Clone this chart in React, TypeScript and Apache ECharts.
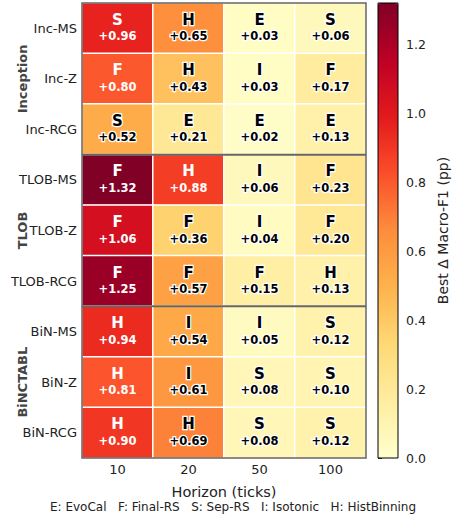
import React, { useEffect, useRef } from "react";
import * as echarts from "echarts";

const rows = ["Inc-MS", "Inc-Z", "Inc-RCG", "TLOB-MS", "TLOB-Z", "TLOB-RCG", "BiN-MS", "BiN-Z", "BiN-RCG"];
const cols = ["10", "20", "50", "100"];
const methods = [
  ["S", "H", "E", "S"],
  ["F", "H", "I", "F"],
  ["S", "E", "E", "E"],
  ["F", "H", "I", "F"],
  ["F", "F", "I", "F"],
  ["F", "F", "F", "H"],
  ["H", "I", "I", "S"],
  ["H", "I", "S", "S"],
  ["H", "H", "S", "S"],
];
const values = [
  [0.96, 0.65, 0.03, 0.06],
  [0.8, 0.43, 0.03, 0.17],
  [0.52, 0.21, 0.02, 0.13],
  [1.32, 0.88, 0.06, 0.23],
  [1.06, 0.36, 0.04, 0.2],
  [1.25, 0.57, 0.15, 0.13],
  [0.94, 0.54, 0.05, 0.12],
  [0.81, 0.61, 0.08, 0.1],
  [0.9, 0.69, 0.08, 0.12],
];
const groups = ["Inception", "TLOB", "BiNCTABL"];
const cbarTicks = [0, 0.2, 0.4, 0.6, 0.8, 1.0, 1.2];
const vMin = 0;
const vMax = 1.32;
const ylOrRd = ["#ffffcc", "#ffeda0", "#fed976", "#feb24c", "#fd8d3c", "#fc4e2a", "#e31a1c", "#bd0026", "#800026"];
const footer = "E: EvoCal   F: Final-RS   S: Sep-RS   I: Isotonic   H: HistBinning";

const FONT = "DejaVu Sans";
const G = { left: 82, top: 3, width: 284, height: 455 };
const CB = { left: 378, top: 3, width: 20, height: 455 };

export default function App() {
  const ref = useRef<HTMLDivElement>(null);
  useEffect(() => {
    if (!ref.current) return;
    const chart = echarts.init(ref.current, null, { renderer: "svg" });
    const data: any[] = [];
    rows.forEach((r, i) => {
      cols.forEach((c, j) => {
        const v = values[i][j];
        const dark = v > 0.75;
        const base = dark
          ? { color: "#fff", textBorderWidth: 0 }
          : { color: "#000", textBorderColor: "#fff", textBorderWidth: 2.5 };
        data.push({
          value: [j, i, v],
          label: {
            rich: {
              m: { ...base, fontFamily: FONT, fontWeight: "bold", fontSize: 15, lineHeight: 19 },
              v: { ...base, fontFamily: FONT, fontWeight: "bold", fontSize: 11.5, lineHeight: 14 },
            },
          },
        });
      });
    });
    const rowH = G.height / rows.length;
    const graphics: any[] = [];
    groups.forEach((g, k) => {
      graphics.push({
        type: "text",
        x: 22,
        y: G.top + (k * 3 + 1.5) * rowH,
        rotation: Math.PI / 2,
        style: {
          text: g,
          fontFamily: FONT,
          fontWeight: "bold",
          fontSize: 13,
          fill: "#444",
          align: "center",
          verticalAlign: "middle",
        },
        z: 100,
      });
    });
    [3, 6].forEach((k) => {
      graphics.push({
        type: "line",
        shape: { x1: G.left, y1: G.top + k * rowH, x2: G.left + G.width, y2: G.top + k * rowH },
        style: { stroke: "#666", lineWidth: 2 },
        z: 100,
      });
    });
    graphics.push({
      type: "rect",
      shape: { x: G.left, y: G.top, width: G.width, height: G.height },
      style: { fill: "none", stroke: "#666", lineWidth: 1.5 },
      z: 100,
    });
    graphics.push({
      type: "rect",
      shape: { x: CB.left, y: CB.top, width: CB.width, height: CB.height },
      style: { fill: "none", stroke: "#000", lineWidth: 1 },
      z: 100,
    });
    graphics.push({
      type: "text",
      x: 233,
      y: 507,
      style: {
        text: footer,
        fontFamily: FONT,
        fontSize: 12,
        fill: "#222",
        align: "center",
        verticalAlign: "middle",
      },
    });

    chart.setOption({
      animation: false,
      grid: [
        { ...G, containLabel: false },
        { ...CB, containLabel: false },
      ],
      xAxis: [
        {
          type: "category",
          data: cols,
          gridIndex: 0,
          name: "Horizon (ticks)",
          nameLocation: "middle",
          nameGap: 26,
          nameTextStyle: { fontFamily: FONT, fontSize: 14.5, color: "#222" },
          axisLine: { show: false },
          axisTick: { show: false },
          axisLabel: { fontFamily: FONT, fontSize: 13, color: "#222", margin: 5 },
          splitLine: { show: false },
        },
        { type: "value", gridIndex: 1, show: false, min: 0, max: 1 },
      ],
      yAxis: [
        {
          type: "category",
          data: rows,
          gridIndex: 0,
          inverse: true,
          axisLine: { show: false },
          axisTick: { show: false },
          axisLabel: { fontFamily: FONT, fontSize: 13, color: "#222", margin: 5 },
          splitLine: { show: false },
        },
        {
          type: "value",
          gridIndex: 1,
          position: "right",
          min: vMin,
          max: vMax,
          axisLine: { show: false },
          axisTick: { show: true, length: 4, lineStyle: { color: "#333" }, customValues: cbarTicks },
          axisLabel: {
            fontFamily: FONT,
            fontSize: 12.5,
            color: "#222",
            margin: 8,
            customValues: cbarTicks,
            formatter: (v: number) => v.toFixed(1),
          },
          splitLine: { show: false },
          name: "Best Δ Macro-F1 (pp)",
          nameLocation: "middle",
          nameGap: 38,
          nameRotate: 90,
          nameTextStyle: { fontFamily: FONT, fontSize: 14, color: "#222" },
        },
      ],
      visualMap: {
        type: "continuous",
        seriesIndex: 0,
        min: vMin,
        max: vMax,
        calculable: false,
        left: CB.left,
        top: CB.top,
        itemWidth: CB.width,
        itemHeight: CB.height,
        padding: 0,
        showLabel: false,
        inRange: { color: ylOrRd },
      },
      graphic: graphics,
      series: [
        {
          type: "heatmap",
          xAxisIndex: 0,
          yAxisIndex: 0,
          data,
          itemStyle: { borderColor: "#fff", borderWidth: 1.5 },
          label: {
            show: true,
            offset: [0, -1.5],
            formatter: (p: any) => {
              const [j, i] = p.value;
              return `{m|${methods[i][j]}}\n{v|+${values[i][j].toFixed(2)}}`;
            },
          },
          emphasis: { disabled: true },
        },
      ],
    });
    return () => chart.dispose();
  }, []);
  return (
    <div
      ref={ref}
      style={{ position: "absolute", left: 0, top: 0, width: 453, height: 517 }}
    />
  );
}
